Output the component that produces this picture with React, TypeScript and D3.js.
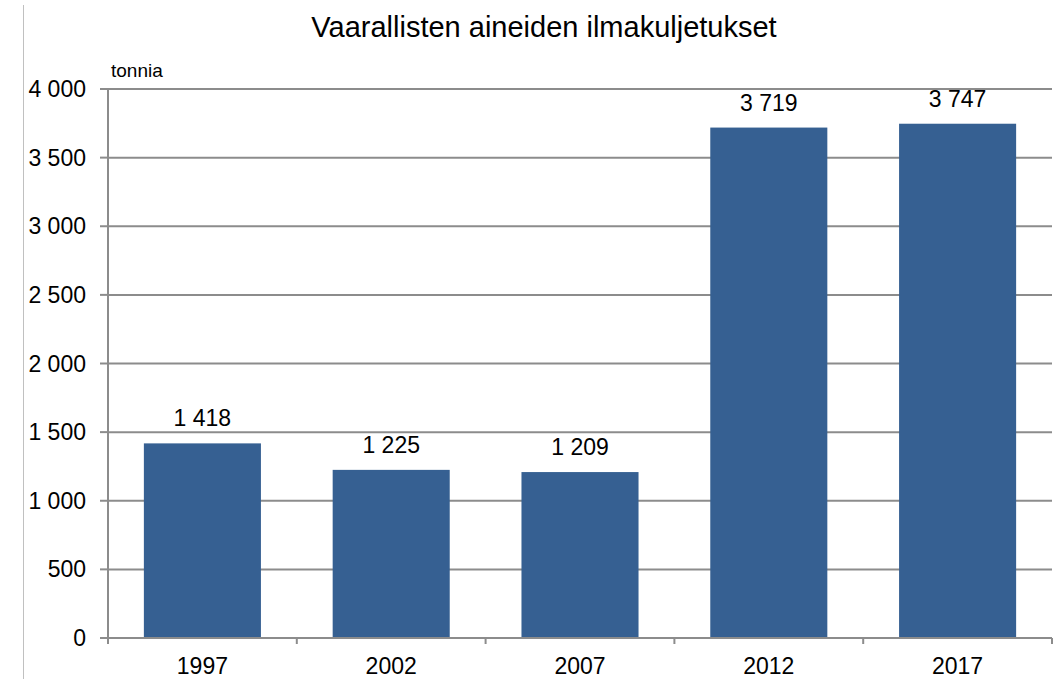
import React from "react";
import * as d3 from "d3";

const title = "Vaarallisten aineiden ilmakuljetukset";
const unitLabel = "tonnia";
const years = ["1997", "2002", "2007", "2012", "2017"];
const values = [1418, 1225, 1209, 3719, 3747];
const yTicks = [0, 500, 1000, 1500, 2000, 2500, 3000, 3500, 4000];

const W = 1064;
const H = 679;
const left = 108;
const right = 1052;
const top = 89;
const bottom = 638;
const font = "'Liberation Sans', Arial, sans-serif";

const fmt = (v: number) => d3.format(",")(v).replace(/,/g, " ");

export default function App() {
  const x = d3.scaleBand<string>().domain(years).range([left, right]).paddingInner(0.38).paddingOuter(0.19);
  const y = d3.scaleLinear().domain([0, 4000]).range([bottom, top]);
  const step = x.step();
  const boundaries = d3.range(years.length + 1).map((i) => left + i * step);

  return (
    <svg width={W} height={H} style={{ position: "absolute", left: 0, top: 0, background: "#fff" }} fontFamily={font}>
      <line x1={23.5} x2={23.5} y1={5} y2={H} stroke="#c0c0c0" strokeWidth={1} />
      <text x={544} y={37} textAnchor="middle" fontSize={29} fill="#000">{title}</text>
      <text x={111} y={77} fontSize={19} fill="#000">{unitLabel}</text>
      {yTicks.map((t) => (
        <g key={t}>
          {t > 0 && (
            <line x1={left} x2={right} y1={y(t)} y2={y(t)} stroke="#8c8c8c" strokeWidth={2} />
          )}
          <line x1={100} x2={left} y1={y(t)} y2={y(t)} stroke="#8c8c8c" strokeWidth={2} />
          <text x={86} y={y(t)} dy="0.35em" textAnchor="end" fontSize={23} fill="#000">{fmt(t)}</text>
        </g>
      ))}
      {years.map((yr, i) => (
        <g key={yr}>
          <rect x={x(yr)} y={y(values[i])} width={x.bandwidth()} height={bottom - y(values[i])} fill="#366092" />
          <text x={(x(yr) as number) + x.bandwidth() / 2} y={y(values[i]) - 17} textAnchor="middle" fontSize={23} fill="#000">{fmt(values[i])}</text>
          <text x={(x(yr) as number) + x.bandwidth() / 2} y={674} textAnchor="middle" fontSize={23} fill="#000">{yr}</text>
        </g>
      ))}
      <line x1={left} x2={left} y1={top} y2={bottom + 5} stroke="#8c8c8c" strokeWidth={2} />
      <line x1={left} x2={right} y1={bottom} y2={bottom} stroke="#8c8c8c" strokeWidth={2} />
      {boundaries.map((b, i) => (
        <line key={i} x1={b} x2={b} y1={bottom} y2={bottom + 6} stroke="#8c8c8c" strokeWidth={2} />
      ))}
    </svg>
  );
}
